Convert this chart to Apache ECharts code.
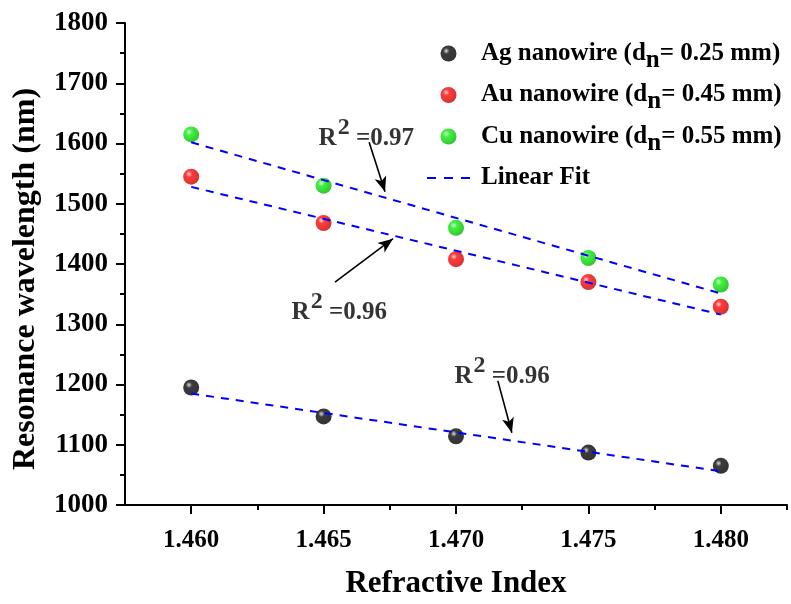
<!DOCTYPE html>
<html>
<head>
<meta charset="utf-8">
<title>Resonance wavelength vs refractive index</title>
<script src="https://cdn.jsdelivr.net/npm/echarts@6/dist/echarts.min.js"></script>
<style>
  html, body { margin: 0; padding: 0; background: #fff; }
  #chart { width: 791px; height: 604px; }
</style>
</head>
<body>
<div id="chart"></div>
<script>
// Refractive index of the analyte
const refrIndex = [1.460, 1.465, 1.470, 1.475, 1.480];

// Resonance wavelength (nm) for each nanowire
const agValues = [1195, 1147, 1114, 1087, 1065];
const auValues = [1545, 1468, 1408, 1370, 1329];
const cuValues = [1615, 1530, 1460, 1410, 1366];

// Linear fit end points
const fitX = [1.460, 1.480];
const agFit = [1185, 1056];
const auFit = [1528, 1316];
const cuFit = [1602, 1351];

// Series / legend text
const seriesNames = ['Ag nanowire', 'Au nanowire', 'Cu nanowire'];
const wireDiameters = ['0.25', '0.45', '0.55'];
const fitName = 'Linear Fit';

// Axis ticks
const xMajorTicks = [1.460, 1.465, 1.470, 1.475, 1.480];
const xMinorTicks = [1.4625, 1.4675, 1.4725, 1.4775, 1.4825];

// R² annotations: anchor (left edge) and arrow start/end
const annLabels = ['0.97', '0.96', '0.96'];
const annX = [1.46483, 1.46381, 1.46996];
const annY = [1607, 1318, 1212];
const arrowFrom = [[1.46672, 1602], [1.46543, 1370], [1.47158, 1206]];
const arrowTo = [[1.46732, 1520], [1.46762, 1442], [1.47211, 1120]];

const FONT = "'Liberation Serif', 'Times New Roman', serif";

function ball(base, dark, hi) {
  return {
    type: 'radial', x: 0.36, y: 0.34, r: 0.7,
    colorStops: [
      { offset: 0, color: hi },
      { offset: 0.28, color: base },
      { offset: 1, color: dark }
    ]
  };
}

const ballColors = [
  ball('#0a0a0a', '#000000', '#d0d0d0'),
  ball('#ff0a0a', '#c80000', '#ffd0d0'),
  ball('#10f010', '#00b400', '#e0ffe0')
];

const pointSets = [agValues, auValues, cuValues];
const fitSets = [agFit, auFit, cuFit];

const series = [];

pointSets.forEach(function (vals, i) {
  series.push({
    name: seriesNames[i],
    type: 'scatter',
    symbol: 'circle',
    symbolSize: 16,
    itemStyle: { color: ballColors[i] },
    data: refrIndex.map(function (x, k) { return [x, vals[k]]; }),
    z: 2
  });
});

fitSets.forEach(function (vals, i) {
  series.push({
    name: fitName,
    type: 'line',
    symbol: 'none',
    showSymbol: false,
    lineStyle: { color: '#0000ff', width: 2, type: [8, 7] },
    itemStyle: { color: '#0000ff' },
    data: fitX.map(function (x, k) { return [x, vals[k]]; }),
    z: 3,
    markLine: i === 0 ? {
      silent: true,
      symbol: ['none', 'arrow'],
      symbolSize: [9, 15],
      label: { show: false },
      lineStyle: { color: '#000', width: 1.6, type: 'solid' },
      data: arrowFrom.map(function (p, k) {
        return [{ coord: p }, { coord: arrowTo[k] }];
      })
    } : undefined
  });
});

// R² text labels
series.push({
  name: 'R2',
  type: 'scatter',
  symbolSize: 1,
  silent: true,
  itemStyle: { color: 'rgba(0,0,0,0)' },
  data: annX.map(function (x, k) { return { value: [x, annY[k]], r2: annLabels[k] }; }),
  label: {
    show: true,
    position: [0, 0],
    align: 'left',
    verticalAlign: 'middle',
    formatter: function (p) { return '{r|R}{p|2}{r| =' + p.data.r2 + '}'; },
    rich: {
      r: { fontFamily: FONT, fontWeight: 'bold', fontSize: 25, color: '#000', lineHeight: 26 },
      p: { fontFamily: FONT, fontWeight: 'bold', fontSize: 24, color: '#000', lineHeight: 26, padding: [0, 0, 22, 1] }
    }
  },
  z: 4
});

// dashed-line glyph for the fit entry of the legend
const dashIcon = 'path://M0,0h9v2.2h-9z M17,0h9v2.2h-9z M34,0h9v2.2h-9z';

const legendText = { fontFamily: FONT, fontWeight: 'bold', fontSize: 25, color: '#000' };

const chart = echarts.init(document.getElementById('chart'), null, { renderer: 'canvas' });

chart.setOption({
  animation: false,
  backgroundColor: '#fff',
  grid: { left: 125, right: 4, top: 23, bottom: 96, containLabel: false },
  legend: {
    data: seriesNames.concat([{ name: fitName, icon: dashIcon }]),
    orient: 'vertical',
    left: 422,
    top: 29,
    itemWidth: 43,
    itemHeight: 16,
    itemGap: 2.5,
    selectedMode: false,
    formatter: function (name) {
      const i = seriesNames.indexOf(name);
      if (i < 0) return '{f|' + name + '}{s| }';
      return '{f|' + name + ' (d}{s|n}{a|= ' + wireDiameters[i] + ' mm)}';
    },
    textStyle: {
      padding: [0, 0, 0, 0],
      rich: {
        f: Object.assign({ lineHeight: 38, padding: [0, 0, 0, 6] }, legendText),
        a: Object.assign({ lineHeight: 38 }, legendText),
        s: Object.assign({ lineHeight: 24, padding: [14, 0, 0, 0] }, legendText)
      }
    }
  },
  xAxis: [{
    type: 'value',
    min: 1.4575,
    max: 1.4825,
    name: 'Refractive Index',
    nameLocation: 'middle',
    nameGap: 63,
    nameTextStyle: { fontFamily: FONT, fontWeight: 'bold', fontSize: 31, color: '#000' },
    axisLine: { show: true, onZero: false, lineStyle: { color: '#000', width: 2 } },
    axisTick: { show: true, inside: false, length: 9, customValues: xMajorTicks, lineStyle: { color: '#000', width: 2 } },
    axisLabel: {
      show: true, margin: 23, customValues: xMajorTicks,
      formatter: function (v) { return v.toFixed(3); },
      fontFamily: FONT, fontWeight: 'bold', fontSize: 25, color: '#000'
    },
    splitLine: { show: false }
  }, {
    type: 'value',
    min: 1.4575,
    max: 1.4825,
    position: 'bottom',
    axisLine: { show: false },
    axisTick: { show: true, inside: false, length: 5, customValues: xMinorTicks, lineStyle: { color: '#000', width: 2 } },
    axisLabel: { show: false },
    splitLine: { show: false }
  }],
  yAxis: {
    type: 'value',
    min: 1000,
    max: 1800,
    interval: 100,
    name: 'Resonance wavelength (nm)',
    nameLocation: 'middle',
    nameGap: 83,
    nameTextStyle: { fontFamily: FONT, fontWeight: 'bold', fontSize: 32, color: '#000', padding: [0, 30, 0, 0] },
    axisLine: { show: true, lineStyle: { color: '#000', width: 2 } },
    axisTick: { show: true, inside: false, length: 9, lineStyle: { color: '#000', width: 2 } },
    minorTick: { show: true, splitNumber: 2, length: 5, lineStyle: { color: '#000', width: 2 } },
    axisLabel: {
      margin: 17, fontFamily: FONT, fontWeight: 'bold', fontSize: 27, color: '#000',
      formatter: function (v) { return String(v); }
    },
    splitLine: { show: false },
    minorSplitLine: { show: false }
  },
  series: series
});
</script>
</body>
</html>
